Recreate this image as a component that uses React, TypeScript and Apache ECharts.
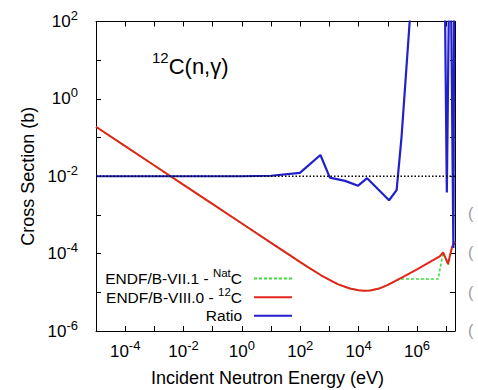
import React, { useEffect, useRef } from 'react';
import * as echarts from 'echarts';

const FONT = "'Liberation Sans', Arial, Helvetica, sans-serif";

// ---- data (energies in eV, cross sections in barn) ----
const redEnergy = [1e-5, 1e-4, 1e-3, 1e-2, 0.1, 1, 10, 100, 200, 500, 1e3, 2e3, 5e3, 1e4, 1.5e4, 2.5e4, 5e4, 1e5, 3e5, 1e6, 3e6, 6e6, 7.8e6, 1.0e7, 1.15e7, 1.4e7, 1.6e7, 2e7];
const redXS = [0.19, 0.06, 0.019, 0.006, 0.0019, 6.0e-4, 1.9e-4, 6.0e-5, 4.3e-5, 2.8e-5, 2.1e-5, 1.6e-5, 1.25e-5, 1.13e-5, 1.1e-5, 1.12e-5, 1.25e-5, 1.55e-5, 2.4e-5, 3.9e-5, 6.3e-5, 8.5e-5, 1.08e-4, 7.0e-5, 5.4e-5, 1.0e-4, 1.5e-4, 2.0e-4];

const greenEnergy = [1e-5, 1e-4, 1e-3, 1e-2, 0.1, 1, 10, 100, 200, 500, 1e3, 2e3, 5e3, 1e4, 1.5e4, 2.5e4, 5e4, 1e5, 2.5e5, 5.3e6, 7.8e6, 1.0e7, 1.2e7, 1.4e7, 1.6e7, 2e7];
const greenXS = [0.19, 0.06, 0.019, 0.006, 0.0019, 6.0e-4, 1.9e-4, 6.0e-5, 4.3e-5, 2.8e-5, 2.1e-5, 1.6e-5, 1.25e-5, 1.13e-5, 1.1e-5, 1.12e-5, 1.25e-5, 1.55e-5, 2.2e-5, 2.2e-5, 1.05e-4, 7.0e-5, 5.2e-5, 1.0e-4, 1.5e-4, 2.0e-4];

const ratioEnergy = [1e-5, 1, 10, 97, 490, 1030, 3400, 9600, 1.95e4, 1.1e5, 2.0e5, 2.95e5, 5.6e5, 1e6, 5e6, 8.9e6, 1.05e7, 1.26e7, 1.45e7, 1.76e7, 1.88e7];
const ratioVal = [0.01, 0.01, 0.0103, 0.0122, 0.0355, 0.0092, 0.0076, 0.0057, 0.0089, 0.0024, 0.0044, 0.105, 100, 1000, 1000, 1000, 0.0038, 1000, 1000, 1.4e-4, 1000];

const refEnergy = [1e-5, 2e7];
const refVal = [0.01, 0.01];

const xRange = [1e-5, 2e7];
const yRange = [1e-6, 1e2];
const xLabelExps = [-4, -2, 0, 2, 4, 6];
const yLabelExps = [-6, -4, -2, 0, 2];

const NAME_G = 'ENDF/B-VII.1 - NatC';
const NAME_R = 'ENDF/B-VIII.0 - 12C';
const NAME_B = 'Ratio';
const legendNames = [NAME_G, NAME_R, NAME_B];
const legendRich: Record<string, string> = {
  [NAME_G]: '{b|ENDF/B-VII.1 - }{s|Nat}{b|C}{g| }',
  [NAME_R]: '{b|ENDF/B-VIII.0 - }{s|12}{b|C}{g| }',
  [NAME_B]: '{s| }{b|Ratio}{g| }',
};
const legendRowCenters = [279, 297.7, 316.3];

const toPts = (xs: number[], ys: number[]) => xs.map((x, i) => [Math.log10(x), Math.log10(ys[i])]);

const tickRich = {
  b: { fontSize: 17, fontFamily: FONT, color: '#000', lineHeight: 18 },
  s: { fontSize: 13, fontFamily: FONT, color: '#000', lineHeight: 18, padding: [0, 0, 12, 0] },
};

const fmt = (allowed: number[]) => (v: number) => {
  const r = Math.round(v);
  if (Math.abs(v - r) > 1e-6 || !allowed.includes(r)) return '';
  return `{b|10}{s|${r}}`;
};

const black = '#000';

function buildOption(): any {
  const xMin = Math.log10(xRange[0]);
  const xMax = Math.log10(xRange[1]);
  const yMin = Math.log10(yRange[0]);
  const yMax = Math.log10(yRange[1]);
  const tick = { show: true, inside: true, length: 5, lineStyle: { color: black, width: 1 } };
  const line = { show: true, onZero: false, lineStyle: { color: black, width: 1 } };
  const legendCommon = {
    orient: 'vertical', right: 185, align: 'right', padding: 0,
    itemWidth: 38, itemHeight: 10, selectedMode: false,
    itemStyle: { opacity: 0 },
    formatter: (name: string) => legendRich[name] || name,
    textStyle: {
      fontFamily: FONT, fontSize: 15.5, color: black,
      rich: {
        b: { fontSize: 15.5, fontFamily: FONT, color: black, lineHeight: 17 },
        s: { fontSize: 11.5, fontFamily: FONT, color: black, lineHeight: 17, padding: [0, 0, 11, 0] },
        g: { fontSize: 15.5, fontFamily: FONT, width: 7, lineHeight: 17 },
      },
    },
  };
  return {
    animation: false,
    backgroundColor: '#fff',
    grid: { left: 96, right: 23, top: 21.5, bottom: 59, containLabel: false, outerBoundsMode: 'none' },
    xAxis: [
      {
        type: 'value', position: 'bottom', min: xMin, max: xMax, interval: 1,
        axisLine: line, axisTick: tick, splitLine: { show: false },
        axisLabel: { show: true, interval: 0, margin: 11, formatter: fmt(xLabelExps), rich: tickRich, color: black },
        name: 'Incident Neutron Energy (eV)', nameLocation: 'middle', nameGap: 38,
        nameTextStyle: { fontSize: 18, fontFamily: FONT, color: black, padding: [0, 16, 0, 0] },
      },
      {
        type: 'value', position: 'top', min: xMin, max: xMax, interval: 1,
        axisLine: line, axisTick: tick, splitLine: { show: false }, axisLabel: { show: false },
      },
    ],
    yAxis: [
      {
        type: 'value', position: 'left', min: yMin, max: yMax, interval: 1,
        axisLine: line, axisTick: tick, splitLine: { show: false },
        axisLabel: { show: true, interval: 0, margin: 18, formatter: fmt(yLabelExps), rich: tickRich, color: black },
        name: 'Cross Section (b)', nameLocation: 'middle', nameGap: 55,
        nameTextStyle: { fontSize: 18, fontFamily: FONT, color: black },
      },
      {
        type: 'value', position: 'right', min: yMin, max: yMax, interval: 1,
        axisLine: line, axisTick: tick, splitLine: { show: false }, axisLabel: { show: false },
      },
    ],
    legend: legendNames.map((n, i) => ({ ...legendCommon, data: [n], top: legendRowCenters[i] - 12 })),
    graphic: [
      {
        type: 'text', x: 152, y: 66,
        style: {
          text: '{s|12}{b|C(n,\u03b3)}', align: 'left', verticalAlign: 'middle',
          rich: {
            b: { fontSize: 22, fontFamily: FONT, fill: black, lineHeight: 26 },
            s: { fontSize: 15, fontFamily: FONT, fill: black, lineHeight: 26, padding: [0, 0, 17, 0] },
          },
        },
      },
      ...[213, 252, 292, 330].map((y) => ({
        type: 'text', x: 468, y,
        style: { text: '(', fontSize: 16, fontFamily: FONT, fill: '#9a9a9a', verticalAlign: 'middle' },
      })),
    ],
    series: [
      {
        name: NAME_G, type: 'line', data: toPts(greenEnergy, greenXS), symbol: 'none', showSymbol: false,
        lineStyle: { color: '#3ddc3d', width: 1.6, type: [3, 2] }, itemStyle: { color: '#3ddc3d' },
      },
      {
        name: NAME_R, type: 'line', data: toPts(redEnergy, redXS), symbol: 'none', showSymbol: false,
        lineStyle: { color: '#e2261b', width: 2 }, itemStyle: { color: '#e2261b' },
      },
      {
        name: NAME_B, type: 'line', data: toPts(ratioEnergy, ratioVal), symbol: 'none', showSymbol: false,
        lineStyle: { color: '#2020cc', width: 2.2 }, itemStyle: { color: '#2020cc' },
      },
      {
        name: 'unity', type: 'line', data: toPts(refEnergy, refVal), symbol: 'none', showSymbol: false, silent: true,
        lineStyle: { color: black, width: 1.6, type: [1.5, 2] }, itemStyle: { color: black },
      },
    ],
  };
}

export default function App() {
  const ref = useRef<HTMLDivElement>(null);
  useEffect(() => {
    if (!ref.current) return;
    const chart = echarts.init(ref.current, null, { renderer: 'svg' });
    chart.setOption(buildOption());
    return () => chart.dispose();
  }, []);
  return (
    <div
      ref={ref}
      style={{ position: 'fixed', left: 0, top: 0, width: 478, height: 390, background: '#fff' }}
    />
  );
}
